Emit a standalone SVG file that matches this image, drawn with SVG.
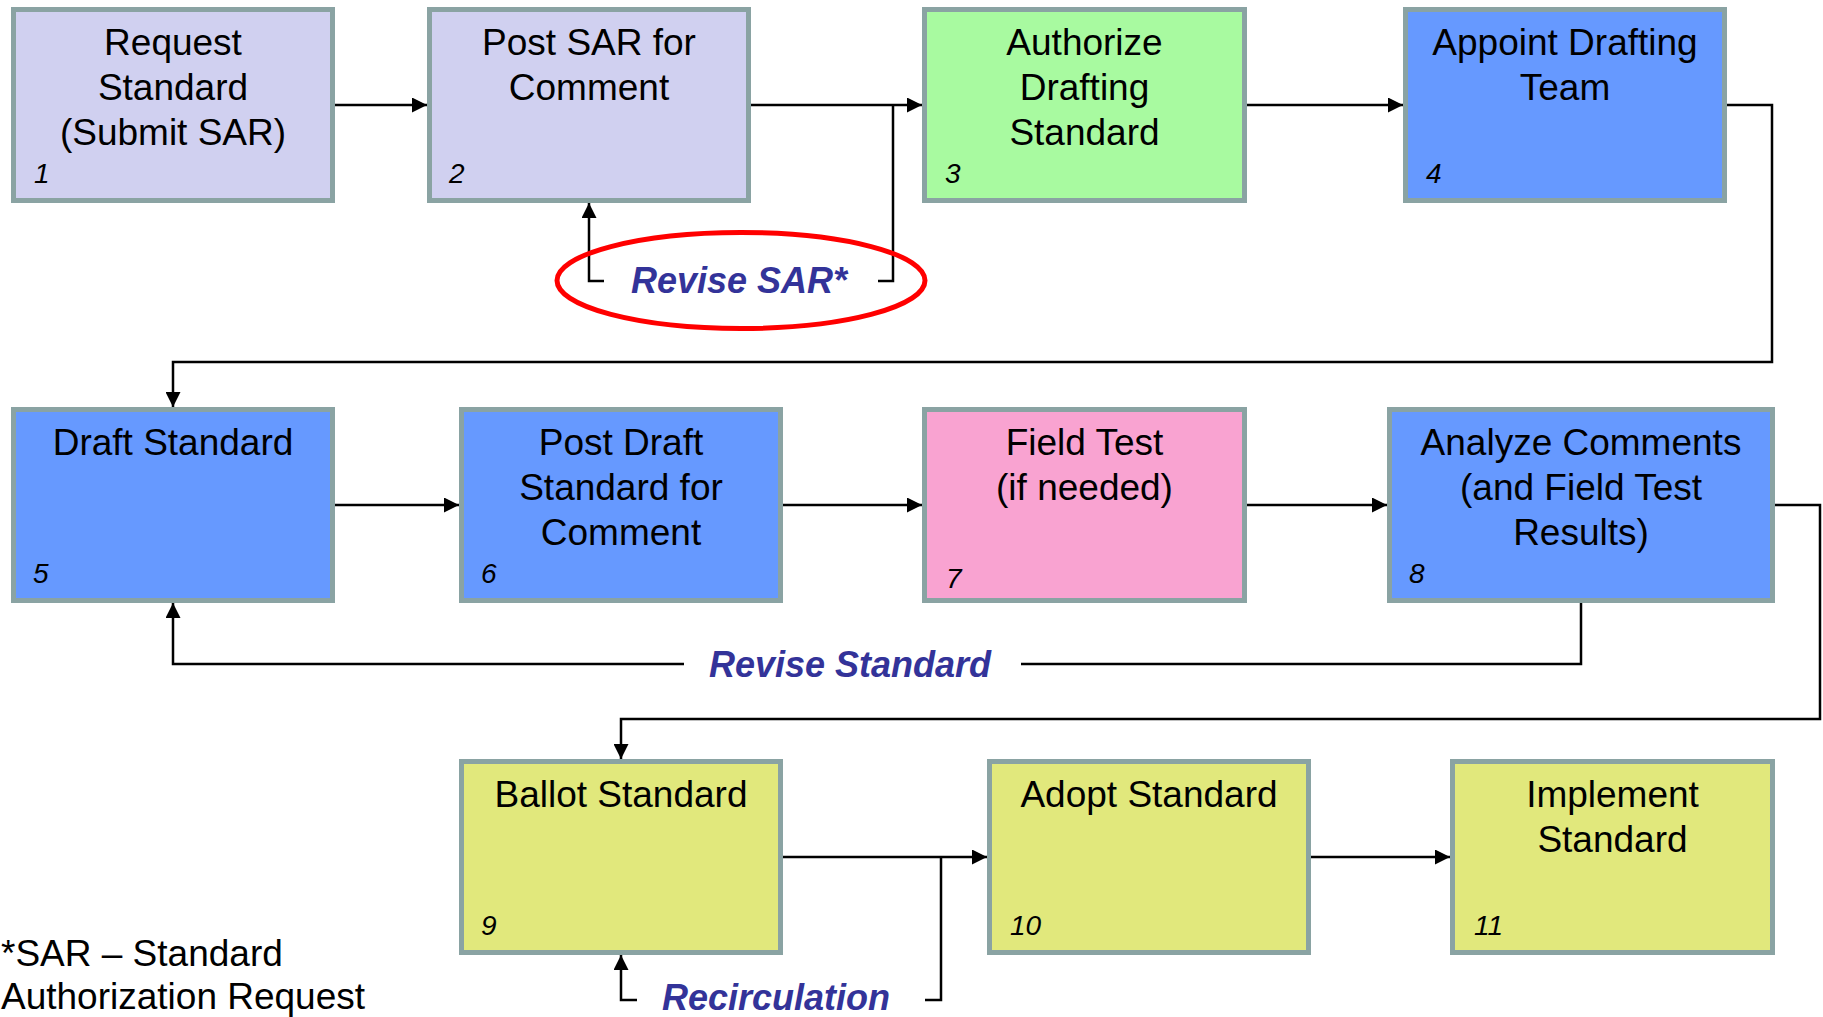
<svg xmlns="http://www.w3.org/2000/svg" width="1823" height="1017" viewBox="0 0 1823 1017">
<style>
.box{stroke:#8aa3a3;stroke-width:5}
.lav{fill:#d0d0f0}.grn{fill:#a8faa0}.blu{fill:#6699ff}.pnk{fill:#f9a3d1}.yel{fill:#e1e87c}
.t{font-family:"Liberation Sans",Arial,sans-serif;font-size:37px;fill:#000;text-anchor:middle}
.n{font-family:"Liberation Sans",Arial,sans-serif;font-size:28px;font-style:italic;fill:#000}
.lbl{font-family:"Liberation Sans",Arial,sans-serif;font-size:36px;font-weight:bold;font-style:italic;fill:#333399;text-anchor:middle}
.c{fill:none;stroke:#000;stroke-width:2.5}
.note{font-family:"Liberation Sans",Arial,sans-serif;font-size:37px;fill:#000}
</style>
<defs>
<marker id="ah" markerUnits="userSpaceOnUse" markerWidth="15" markerHeight="15" refX="15" refY="7.5" orient="auto">
<path d="M0,0 L15,7.5 L0,15 z" fill="#000"/>
</marker>
</defs>
<rect width="1823" height="1017" fill="#fff"/>
<g id="connectors">
<path class="c" d="M335,105 H427" marker-end="url(#ah)"/>
<path class="c" d="M751,105 H922" marker-end="url(#ah)"/>
<path class="c" d="M893,105 V281 H878"/>
<path class="c" d="M604,281 H589 V203" marker-end="url(#ah)"/>
<path class="c" d="M1247,105 H1403" marker-end="url(#ah)"/>
<path class="c" d="M1727,105 H1772 V362 H173 V407" marker-end="url(#ah)"/>
<path class="c" d="M335,505 H459" marker-end="url(#ah)"/>
<path class="c" d="M783,505 H922" marker-end="url(#ah)"/>
<path class="c" d="M1247,505 H1387" marker-end="url(#ah)"/>
<path class="c" d="M1581,603 V664 H1021"/>
<path class="c" d="M684,664 H173 V603" marker-end="url(#ah)"/>
<path class="c" d="M1775,505 H1820 V719 H621 V759" marker-end="url(#ah)"/>
<path class="c" d="M783,857 H987" marker-end="url(#ah)"/>
<path class="c" d="M941,857 V1000 H925"/>
<path class="c" d="M637,1000 H621 V955" marker-end="url(#ah)"/>
<path class="c" d="M1311,857 H1450" marker-end="url(#ah)"/>
</g>
<g id="revise-sar">
<ellipse cx="741" cy="280.5" rx="184" ry="48" fill="none" stroke="#ff0000" stroke-width="5"/>
<text class="lbl" x="739" y="293">Revise SAR*</text>
</g>
<g id="revise-standard"><text class="lbl" x="850" y="677">Revise Standard</text></g>
<g id="recirculation"><text class="lbl" x="776" y="1010">Recirculation</text></g>
<g id="n1"><rect class="box lav" x="13.5" y="9.5" width="319" height="191"/>
<text class="t" x="173" y="55">Request</text><text class="t" x="173" y="100">Standard</text><text class="t" x="173" y="145">(Submit SAR)</text>
<text class="n" x="34" y="183">1</text></g>
<g id="n2"><rect class="box lav" x="429.5" y="9.5" width="319" height="191"/>
<text class="t" x="589" y="55">Post SAR for</text><text class="t" x="589" y="100">Comment</text>
<text class="n" x="449" y="183">2</text></g>
<g id="n3"><rect class="box grn" x="924.5" y="9.5" width="320" height="191"/>
<text class="t" x="1084.5" y="55">Authorize</text><text class="t" x="1084.5" y="100">Drafting</text><text class="t" x="1084.5" y="145">Standard</text>
<text class="n" x="945" y="183">3</text></g>
<g id="n4"><rect class="box blu" x="1405.5" y="9.5" width="319" height="191"/>
<text class="t" x="1565" y="55">Appoint Drafting</text><text class="t" x="1565" y="100">Team</text>
<text class="n" x="1426" y="183">4</text></g>
<g id="n5"><rect class="box blu" x="13.5" y="409.5" width="319" height="191"/>
<text class="t" x="173" y="455">Draft Standard</text>
<text class="n" x="33" y="583">5</text></g>
<g id="n6"><rect class="box blu" x="461.5" y="409.5" width="319" height="191"/>
<text class="t" x="621" y="455">Post Draft</text><text class="t" x="621" y="500">Standard for</text><text class="t" x="621" y="545">Comment</text>
<text class="n" x="481" y="583">6</text></g>
<g id="n7"><rect class="box pnk" x="924.5" y="409.5" width="320" height="191"/>
<text class="t" x="1084.5" y="455">Field Test</text><text class="t" x="1084.5" y="500">(if needed)</text>
<text class="n" x="946" y="588">7</text></g>
<g id="n8"><rect class="box blu" x="1389.5" y="409.5" width="383" height="191"/>
<text class="t" x="1581" y="455">Analyze Comments</text><text class="t" x="1581" y="500">(and Field Test</text><text class="t" x="1581" y="545">Results)</text>
<text class="n" x="1409" y="583">8</text></g>
<g id="n9"><rect class="box yel" x="461.5" y="761.5" width="319" height="191"/>
<text class="t" x="621" y="807">Ballot Standard</text>
<text class="n" x="481" y="935">9</text></g>
<g id="n10"><rect class="box yel" x="989.5" y="761.5" width="319" height="191"/>
<text class="t" x="1149" y="807">Adopt Standard</text>
<text class="n" x="1010" y="935">10</text></g>
<g id="n11"><rect class="box yel" x="1452.5" y="761.5" width="320" height="191"/>
<text class="t" x="1612.5" y="807">Implement</text><text class="t" x="1612.5" y="852">Standard</text>
<text class="n" x="1474" y="935">11</text></g>
<g id="footnote">
<text class="note" x="1" y="966">*SAR – Standard</text>
<text class="note" x="1" y="1009">Authorization Request</text>
</g>
</svg>
